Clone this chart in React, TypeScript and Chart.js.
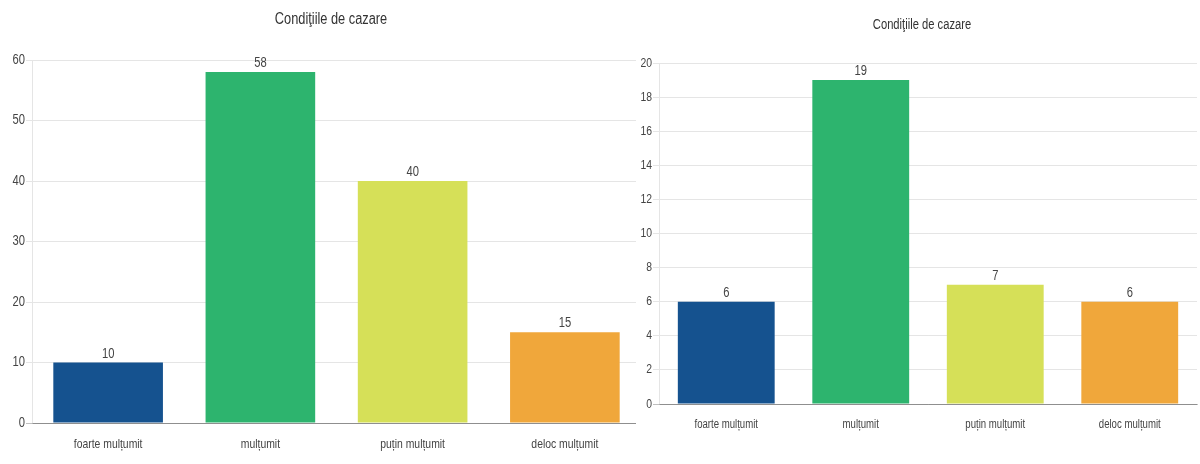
import React, { useEffect, useRef } from "react";
import { Chart, registerables } from "chart.js";

Chart.register(...registerables);

const TITLE = "Condiţiile de cazare";
const categories = ["foarte mulțumit", "mulțumit", "puțin mulțumit", "deloc mulțumit"];
const leftValues = [10, 58, 40, 15];
const rightValues = [6, 19, 7, 6];
const barColors = ["#15528f", "#2db46e", "#d6e058", "#f0a73b"];
const leftYMax = 60;
const leftYStep = 10;
const rightYMax = 20;
const rightYStep = 2;

const FONT = "'Liberation Sans', Arial, sans-serif";
const TEXT_SX = 0.8;

const valueLabels = {
  id: "valueLabels",
  afterDatasetsDraw(chart: any, _args: any, opts: any) {
    const ctx = chart.ctx;
    const meta = chart.getDatasetMeta(0);
    ctx.save();
    ctx.font = `${opts.size}px ${FONT}`;
    ctx.fillStyle = opts.color;
    ctx.textAlign = "center";
    ctx.textBaseline = "alphabetic";
    meta.data.forEach((bar: any, i: number) => {
      const v = chart.data.datasets[0].data[i];
      ctx.fillText(String(v), bar.x, bar.y - opts.offset);
    });
    ctx.restore();
  },
};

const customTitle = {
  id: "customTitle",
  afterDraw(chart: any, _args: any, opts: any) {
    const ctx = chart.ctx;
    ctx.save();
    ctx.font = `${opts.size}px ${FONT}`;
    ctx.fillStyle = opts.color;
    ctx.textAlign = "center";
    ctx.textBaseline = "middle";
    ctx.fillText(opts.text, opts.x, opts.y);
    ctx.restore();
  },
};

type Spec = {
  width: number;
  height: number;
  values: number[];
  yMax: number;
  yStep: number;
  yWidth: number;
  xHeight: number;
  padTop: number;
  padRight: number;
  xFont: number;
  xPad: number;
  tickFont: number;
  labelFont: number;
  titleSize: number;
  titleX: number;
  titleY: number;
};

function condenseText(canvas: HTMLCanvasElement) {
  const ctx: any = canvas.getContext("2d");
  if (!ctx || ctx.__condensed) return;
  const orig = ctx.fillText.bind(ctx);
  ctx.fillText = function (text: string, x: number, y: number, maxWidth?: number) {
    ctx.save();
    ctx.translate(x, y);
    ctx.scale(TEXT_SX, 1);
    if (maxWidth === undefined) orig(text, 0, 0);
    else orig(text, 0, 0, maxWidth / TEXT_SX);
    ctx.restore();
  };
  ctx.__condensed = true;
}

function BarChart({ spec }: { spec: Spec }) {
  const ref = useRef<HTMLCanvasElement | null>(null);
  useEffect(() => {
    if (!ref.current) return;
    condenseText(ref.current);
    const chart = new Chart(ref.current, {
      type: "bar",
      data: {
        labels: categories,
        datasets: [
          {
            data: spec.values,
            backgroundColor: barColors,
            borderWidth: 0,
          },
        ],
      },
      plugins: [valueLabels, customTitle],
      options: {
        responsive: false,
        animation: false,
        maintainAspectRatio: false,
        layout: { padding: { top: spec.padTop, right: spec.padRight, left: 0, bottom: 0 } },
        plugins: {
          legend: { display: false },
          title: { display: false },
          tooltip: { enabled: false },
          valueLabels: { size: spec.labelFont, color: "#444", offset: 5 },
          customTitle: {
            text: TITLE,
            size: spec.titleSize,
            color: "#333",
            x: spec.titleX,
            y: spec.titleY,
          },
        } as any,
        scales: {
          x: {
            grid: { display: false },
            border: { display: true, color: "rgba(0,0,0,0.25)" },
            ticks: {
              color: "#444",
              padding: spec.xPad,
              font: { family: FONT, size: spec.xFont },
              maxRotation: 0,
              autoSkip: false,
            },
            afterFit: (s: any) => {
              s.height = spec.xHeight;
            },
          },
          y: {
            min: 0,
            max: spec.yMax,
            grid: {
              color: (c: any) => (c.tick && c.tick.value === 0 ? "rgba(0,0,0,0.25)" : "rgba(0,0,0,0.1)"),
              tickLength: 6,
            },
            border: { display: true, color: "rgba(0,0,0,0.1)" },
            ticks: {
              stepSize: spec.yStep,
              color: "#444",
              padding: 1,
              font: { family: FONT, size: spec.tickFont },
            },
            afterFit: (s: any) => {
              s.width = spec.yWidth;
            },
          },
        },
      } as any,
    });
    return () => chart.destroy();
  }, [spec]);
  return <canvas ref={ref} width={spec.width} height={spec.height} style={{ display: "block" }} />;
}

const leftSpec: Spec = {
  width: 645,
  height: 464,
  values: leftValues,
  yMax: leftYMax,
  yStep: leftYStep,
  yWidth: 32,
  xHeight: 41,
  padTop: 60,
  padRight: 4,
  xFont: 13,
  xPad: 6,
  tickFont: 14,
  labelFont: 14,
  titleSize: 16,
  titleX: 331,
  titleY: 20,
};

const rightSpec: Spec = {
  width: 564,
  height: 464,
  values: rightValues,
  yMax: rightYMax,
  yStep: rightYStep,
  yWidth: 23,
  xHeight: 60,
  padTop: 63,
  padRight: 3,
  xFont: 12,
  xPad: 5,
  tickFont: 13,
  labelFont: 14,
  titleSize: 14,
  titleX: 286,
  titleY: 25,
};

export default function App() {
  return (
    <div style={{ position: "absolute", left: 0, top: 0, width: 1200, height: 464, background: "#fff", overflow: "hidden" }}>
      <div style={{ position: "absolute", left: 0, top: 0 }}>
        <BarChart spec={leftSpec} />
      </div>
      <div style={{ position: "absolute", left: 636, top: 0, background: "#fff" }}>
        <BarChart spec={rightSpec} />
      </div>
    </div>
  );
}
